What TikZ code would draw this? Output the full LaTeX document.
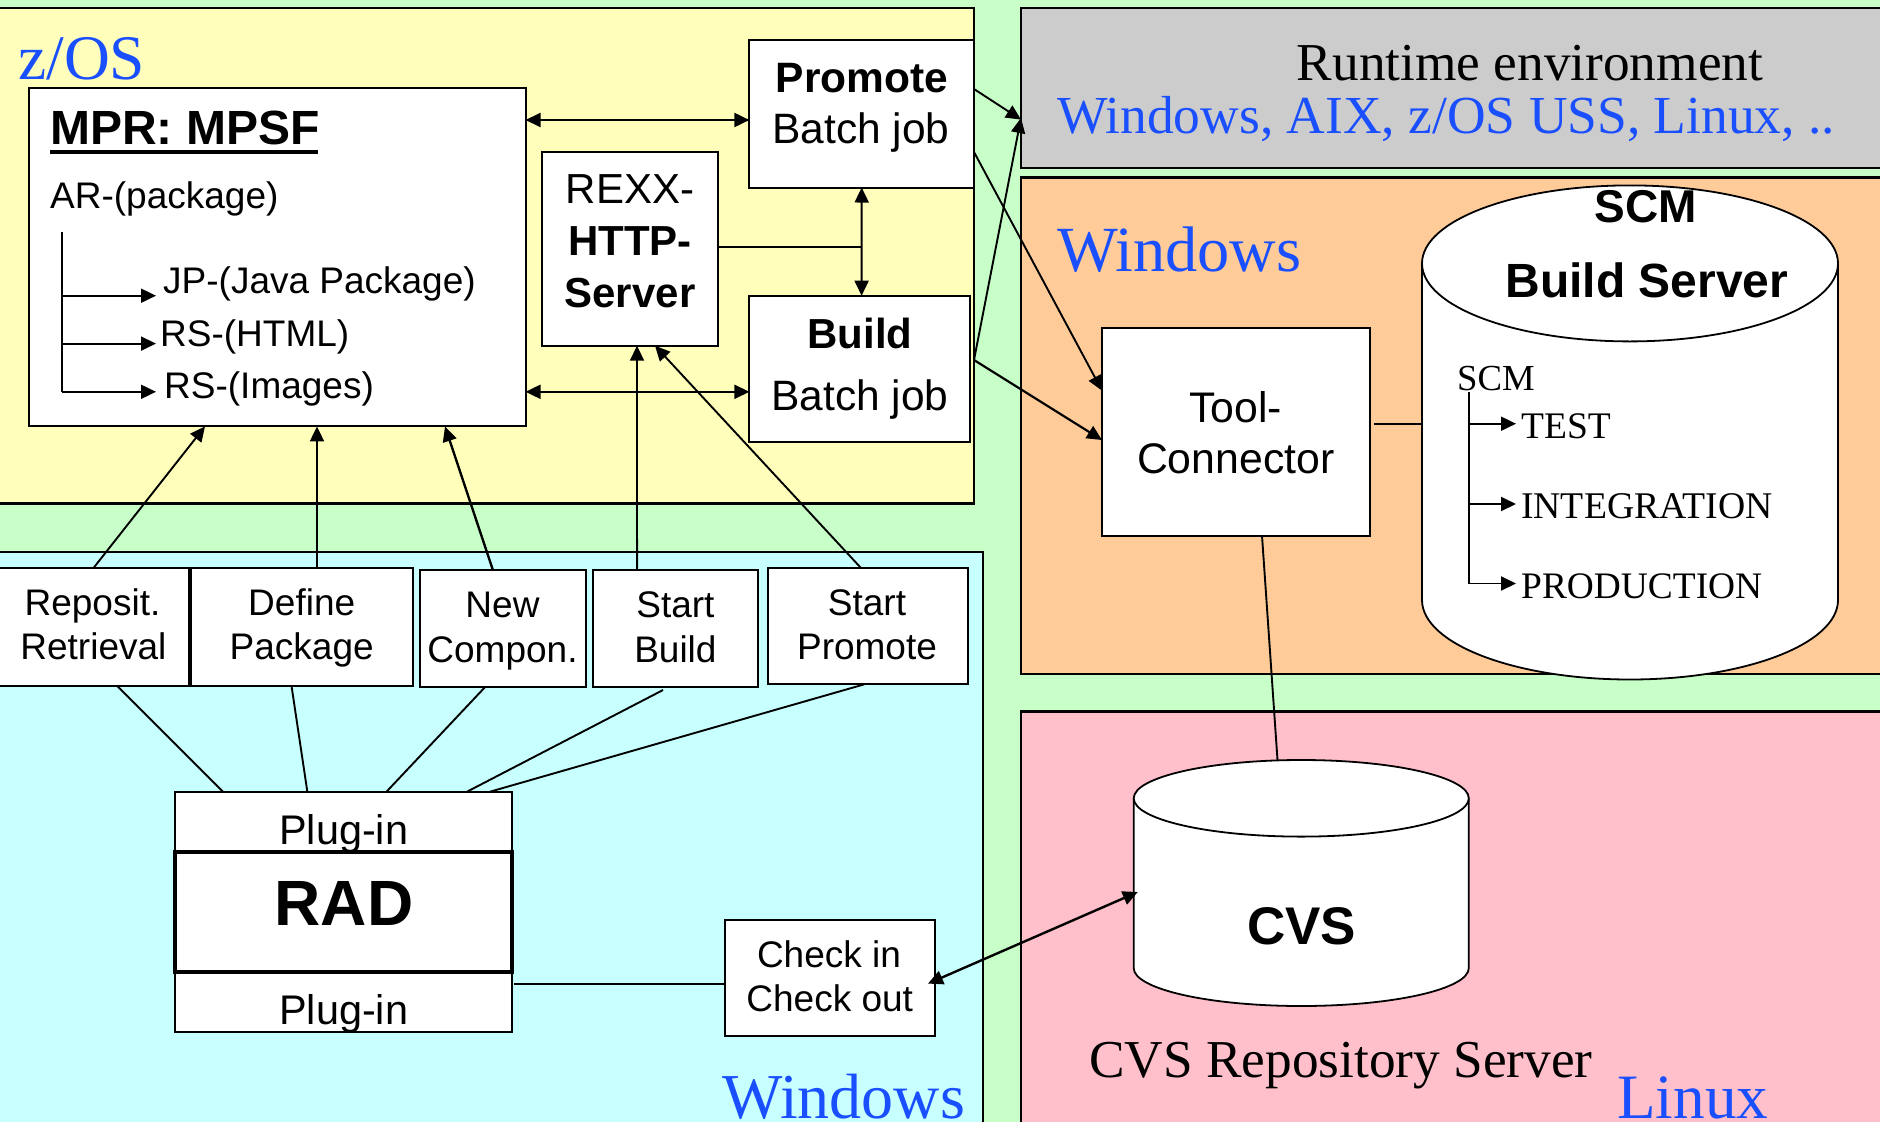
\documentclass[tikz,border=0pt]{standalone}
\usepackage{fontspec}
\setmainfont{Liberation Serif}
\setsansfont{Liberation Sans}
\usetikzlibrary{arrows.meta}
\definecolor{bgc}{HTML}{C8FFC8}
\definecolor{yelc}{HTML}{FFFFBB}
\definecolor{cyac}{HTML}{C8FFFF}
\definecolor{grac}{HTML}{CCCCCC}
\definecolor{orac}{HTML}{FFCC99}
\definecolor{pinc}{HTML}{FFC0CB}
\definecolor{bluc}{HTML}{1A4FFF}
\tikzset{
  panel/.style={draw=black,line width=2.5pt,inner sep=0pt,outer sep=0pt,anchor=north west},
  whbox/.style={draw=black,fill=white,line width=2pt,inner sep=0pt,outer sep=0pt,anchor=north west},
  ar/.style={font=\sffamily\fontsize{#1}{#1}\selectfont,inner sep=0pt,anchor=base,text=black},
  ab/.style={font=\sffamily\bfseries\fontsize{#1}{#1}\selectfont,inner sep=0pt,anchor=base,text=black},
  tm/.style={font=\rmfamily\fontsize{#1}{#1}\selectfont,inner sep=0pt,anchor=base,text=black},
  bl/.style={font=\rmfamily\fontsize{#1}{#1}\selectfont,inner sep=0pt,anchor=base west,text=bluc},
  conn/.style={draw=black,line width=1.9pt},
  arr/.style={conn,-{Triangle[length=15pt,width=14pt]}},
  arrb/.style={conn,{Triangle[length=15pt,width=14pt]}-{Triangle[length=15pt,width=14pt]}},
  small/.style={conn,-{Triangle[length=15pt,width=14pt]}},
  cyl/.style={fill=white,draw=black,line width=1.8pt},
}
\begin{document}
\begin{tikzpicture}[x=1pt,y=-1pt]
\useasboundingbox (0,0) rectangle (1880,1122);
\clip (0,0) rectangle (1880,1122);
\fill[bgc] (0,0) rectangle (1880,1122);
% panels
\node[panel,fill=yelc,minimum width=994pt,minimum height=495.8pt] (zos) at (-20,7.8) {};
\node[panel,fill=cyac,minimum width=1003pt,minimum height=600pt] (win) at (-20,552) {};
\node[panel,fill=grac,minimum width=899pt,minimum height=160pt] (gray) at (1021,8) {};
\node[panel,fill=orac,minimum width=899pt,minimum height=496.3pt] (orange) at (1021,177.7) {};
\node[panel,fill=pinc,minimum width=899pt,minimum height=450pt] (pink) at (1021,711.7) {};
% boxes
\node[whbox,minimum width=496.2pt,minimum height=338.9pt] (mpr) at (29.3,87.5) {};
\node[whbox,minimum width=224.6pt,minimum height=147.5pt] (prom) at (749.4,40) {};
\node[whbox,minimum width=176pt,minimum height=193.9pt] (rexx) at (541.5,151.8) {};
\node[whbox,minimum width=220.6pt,minimum height=146.1pt] (bld) at (749.4,295.7) {};
\node[whbox,minimum width=199.4pt,minimum height=117.5pt] (repo) at (-10,568) {};
\node[whbox,minimum width=221.3pt,minimum height=117.5pt] (def) at (191.3,568) {};
\node[whbox,minimum width=165.5pt,minimum height=117pt] (newc) at (420,570.4) {};
\node[whbox,minimum width=165.1pt,minimum height=117pt] (sb) at (592.5,570.4) {};
\node[whbox,minimum width=199.6pt,minimum height=116.4pt] (sp) at (767.9,568) {};
\node[whbox,minimum width=337.3pt,minimum height=60.1pt] (plugt) at (174.7,791.7) {};
\node[whbox,minimum width=337.3pt,minimum height=60.1pt] (plugb) at (174.7,971.7) {};
\node[whbox,line width=4pt,minimum width=337.3pt,minimum height=119.9pt] (rad) at (174.7,851.8) {};
\node[whbox,minimum width=210.5pt,minimum height=116.6pt] (check) at (724.5,919.7) {};
\node[whbox,minimum width=267.6pt,minimum height=208pt] (tool) at (1102,327.7) {};
% cylinders
\filldraw[cyl] (1422,263.4) -- (1422,600) arc[start angle=180,end angle=360,x radius=208,y radius=-79.5] -- (1838,263.4);
\filldraw[cyl] (1630,263.4) ellipse[x radius=208,y radius=78];
\filldraw[cyl] (1133.7,798.3) -- (1133.7,968) arc[start angle=180,end angle=360,x radius=167.55,y radius=-38] -- (1468.8,798.3);
\filldraw[cyl] (1301.25,798.3) ellipse[x radius=167.55,y radius=38.3];
\coordinate (scmw) at (1422,423.7);
\coordinate (cvst) at (1277.5,760);
\coordinate (cvsw) at (1137.8,892);
\coordinate (junc) at (861.6,247);
% panel labels
\node[bl=63.5] (lzos) at (18,79) {z/OS};
\node[bl=64] (lwinb) at (722,1118) {Windows};
\node[tm=53.3] (lrun) at (1530,80.7) {Runtime environment};
\node[bl=53.5] (lplat) at (1057,133.2) {Windows, AIX, z/OS USS, Linux, ..};
\node[bl=64.4] (lwino) at (1057,271) {Windows};
\node[bl=63.2] (llin) at (1617,1118.7) {Linux};
\node[tm=53.3,anchor=base west] (lrepo) at (1089,1077) {CVS Repository Server};
% box labels
\node[ab=48,anchor=base west] (tmpr) at (50,144.6) {MPR: MPSF};
\draw[line width=4pt] ([yshift=-7.4pt]tmpr.base west) -- ([yshift=-7.4pt,xshift=268pt]tmpr.base west);
\node[ar=37,anchor=base west] (tar) at (50,208.2) {AR-(package)};
\node[ar=37,anchor=base west] (tjp) at (163,293) {JP-(Java Package)};
\node[ar=37,anchor=base west] (trh) at (160,346.2) {RS-(HTML)};
\node[ar=37,anchor=base west] (tri) at (164,398.2) {RS-(Images)};
\node[ab=42.5] (tp1) at (862,92.2) {Promote};
\node[ar=42.5] (tp2) at (861,143.2) {Batch job};
\node[ar=42] (tr1) at (630,203) {REXX-};
\node[ab=42] (tr2) at (630,255) {HTTP-};
\node[ab=42] (tr3) at (630,307) {Server};
\node[ab=42] (tb1) at (860,348.7) {Build};
\node[ar=42.5] (tb2) at (860,410.2) {Batch job};
\node[ar=37] (r1) at (92.5,615.2) {Reposit.};
\node[ar=37] (r2) at (93.4,659.2) {Retrieval};
\node[ar=37] (d1) at (301.7,615.2) {Define};
\node[ar=37] (d2) at (301.7,659.2) {Package};
\node[ar=37] (n1) at (502.5,617.2) {New};
\node[ar=37] (n2) at (502.5,662.4) {Compon.};
\node[ar=37] (s1) at (675.4,617.2) {Start};
\node[ar=37] (s2) at (675.4,662.4) {Build};
\node[ar=37] (p1) at (867,615.2) {Start};
\node[ar=37] (p2) at (867,659.2) {Promote};
\node[ar=41.4] (pl1) at (343.8,844.8) {Plug-in};
\node[ab=64] (trad) at (344,925) {RAD};
\node[ar=41.4] (pl2) at (343.8,1024) {Plug-in};
\node[ar=37] (c1) at (829,967.2) {Check in};
\node[ar=37] (c2) at (829.7,1011.9) {Check out};
\node[ar=42.8] (to1) at (1235.8,422) {Tool-};
\node[ar=42.8] (to2) at (1235.8,473) {Connector};
\node[ab=46] (ts1) at (1645.5,222) {SCM};
\node[ab=48] (ts2) at (1647,297) {Build Server};
\node[tm=36.7,anchor=base west] (ts3) at (1457,390.6) {SCM};
\node[tm=37.5,anchor=base west] (ts4) at (1521,438.4) {TEST};
\node[tm=37.7,anchor=base west] (ts5) at (1521,518.3) {INTEGRATION};
\node[tm=37.4,anchor=base west] (ts6) at (1521,598) {PRODUCTION};
\node[ab=53] (tcvs) at (1301.5,944) {CVS};
% MPR tree
\coordinate (mt0) at (61.9,232);
\coordinate (mt1) at (61.9,295.7);
\coordinate (mt2) at (61.9,343.6);
\coordinate (mt3) at (61.9,391.8);
\draw[conn] (mt0) -- (mt3);
\draw[small] (mt1) -- ([xshift=-7pt]mt1 -| tjp.west);
\draw[small] (mt2) -- ([xshift=-4pt]mt2 -| trh.west);
\draw[small] (mt3) -- ([xshift=-8pt]mt3 -| tri.west);
% SCM tree
\coordinate (st0) at (1469.4,392);
\coordinate (st1) at (1469.4,423.7);
\coordinate (st2) at (1469.4,504);
\coordinate (st3) at (1469.4,583.5);
\draw[conn] (st0) -- (st3);
\draw[small] (st1) -- ([xshift=-5pt]st1 -| ts4.west);
\draw[small] (st2) -- ([xshift=-5pt]st2 -| ts5.west);
\draw[small] (st3) -- ([xshift=-5pt]st3 -| ts6.west);
% connectors
\draw[arr] ([xshift=3.8pt]repo.north) -- ([xshift=-72.4pt]mpr.south);
\draw[arr] ([xshift=15pt]def.north) -- ([xshift=39.6pt]mpr.south);
\draw[arr,line width=2.4pt] ([xshift=-9.75pt]newc.north) -- ([xshift=167.6pt]mpr.south);
\draw[arr] ([xshift=-38pt]sb.north) -- ([xshift=7.5pt]rexx.south);
\draw[arr] ([xshift=-6.7pt]sp.north) -- ([xshift=25.5pt]rexx.south);
\draw[arrb] ([yshift=136.95pt]mpr.east) -- ([yshift=-6.25pt]prom.west);
\draw[arrb] ([yshift=-134.85pt]mpr.east) -- ([yshift=-23.05pt]bld.west);
\draw[arrb] (prom.south) -- ([xshift=1.9pt]bld.north);
\draw[conn] ([yshift=1.75pt]rexx.east) -- (junc);
\draw[arr] ([yshift=24.75pt]prom.east) -- ([yshift=-31.6pt]gray.west);
\draw[arr] ([xshift=4pt,yshift=8.75pt]bld.east) -- ([yshift=-30pt]gray.west);
\draw[arr] ([yshift=-38.25pt]prom.east) -- ([yshift=41.1pt]tool.west);
\draw[arr,line width=2.2pt] ([xshift=4pt,yshift=8.75pt]bld.east) -- ([yshift=-8.3pt]tool.west);
\draw[conn] ([xshift=4.4pt,yshift=8pt]tool.east) -- (scmw);
\draw[conn] ([xshift=26.2pt]tool.south) -- (cvst);
\draw[conn] ([xshift=2pt,yshift=18.15pt]plugb.east) -- ([yshift=-5.6pt]check.west);
\draw[arrb,line width=2.4pt] ([xshift=-7pt,yshift=-5.6pt]check.east) -- (cvsw);
\draw[conn] ([xshift=27pt]repo.south) -- ([xshift=-120.35pt]plugt.north);
\draw[conn] ([xshift=-10.5pt]def.south) -- ([xshift=-36pt]plugt.north);
\draw[conn] ([xshift=-18pt]newc.south) -- ([xshift=43.15pt]plugt.north);
\draw[conn] ([xshift=-12pt,yshift=-2.6pt]sb.south) -- ([xshift=123.65pt]plugt.north);
\draw[conn] ([xshift=-3.7pt]sp.south) -- ([xshift=146.65pt]plugt.north);
\end{tikzpicture}
\end{document}
